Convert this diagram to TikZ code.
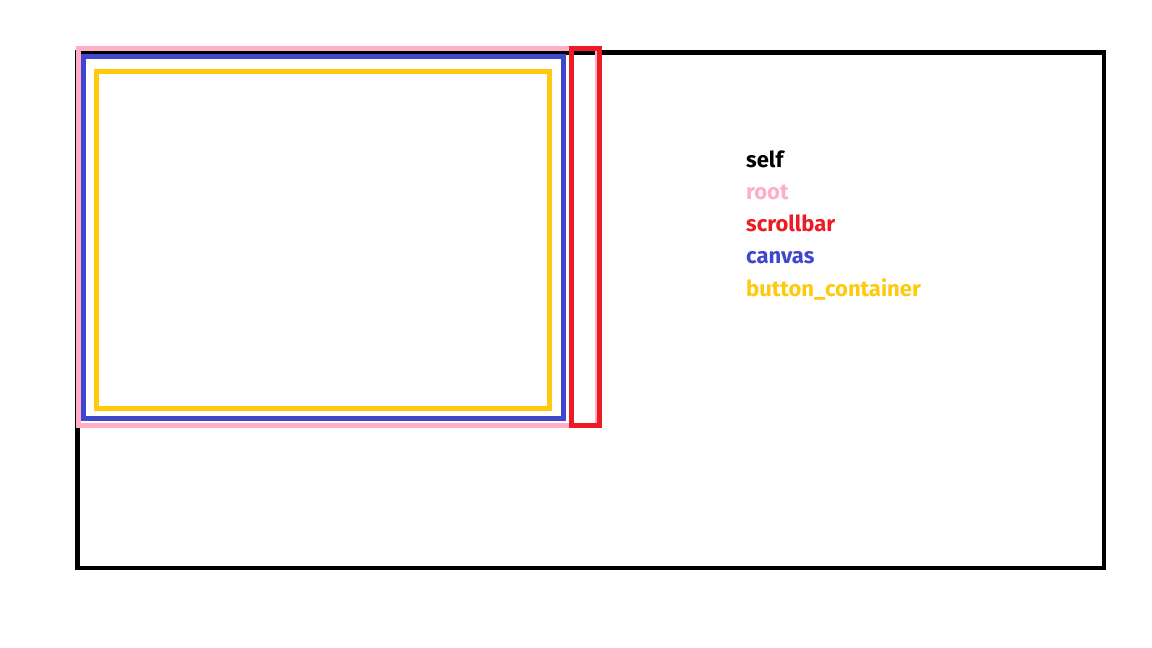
\documentclass[tikz,border=0pt]{standalone}
\usepackage{fontspec}
\newfontfamily\labfont{Fira Sans}
\definecolor{cself}{RGB}{0,0,0}
\definecolor{croot}{RGB}{255,174,201}
\definecolor{cscroll}{RGB}{237,28,36}
\definecolor{ccanvas}{RGB}{63,72,204}
\definecolor{cbutton}{RGB}{255,201,14}
\begin{document}
\begin{tikzpicture}[x=1pt,y=-1pt,
  frame/.style={line width=5pt},
  lab/.style={anchor=base west,inner sep=0pt,font=\labfont\fontsize{22}{26}\selectfont\bfseries}]
\useasboundingbox (0,0) rectangle (1152,648);
\fill[white] (0,0) rectangle (1152,648);
\draw[frame,line width=4.5pt,cself] (77.5,52.5) rectangle (1104,568);
\draw[frame,croot] (78,48.5) rectangle (597,425.5);
\draw[frame,ccanvas] (83.5,56) rectangle (563.5,418.5);
\draw[frame,cbutton] (96.5,71.5) rectangle (549.5,408.5);
\draw[frame,cscroll] (571.5,48.5) rectangle (599.5,425.5);
\node[lab,text=cself] (tself) at (746,167) {self};
\node[lab,text=croot] (troot) at (746,199.3) {root};
\node[lab,text=cscroll] (tscroll) at (746,231.6) {scrollbar};
\node[lab,text=ccanvas] (tcanvas) at (746,263.9) {canvas};
\node[lab,text=cbutton] (tbutton) at (746,296.2) {button\_container};
\end{tikzpicture}
\end{document}
